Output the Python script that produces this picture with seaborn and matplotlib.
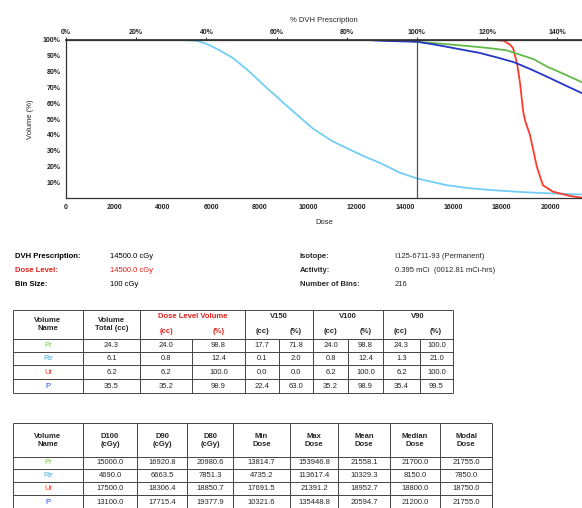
import matplotlib
matplotlib.use("Agg")
import matplotlib.pyplot as plt
import seaborn as sns
import pandas as pd

sns.set_theme(style="white")
plt.rcParams['font.family'] = ['Liberation Sans', 'DejaVu Sans']

# ---------------- DVH curve data (dose cGy, volume %) ----------------
dose_re = [0, 4800, 5400, 5900, 6400, 6900, 7500, 7730, 8300, 8720, 9000, 9670, 10200,
           11000, 11600, 12300, 13000, 13800, 14500, 15700, 16600, 17600, 18800,
           19900, 20800, 21750, 22500]
vol_re = [100, 100, 99.5, 97, 93, 88.6, 81, 77.8, 69.6, 64, 60, 51, 44,
          36, 31.6, 26.5, 22, 16, 12.4, 8.2, 6.3, 5, 3.8, 3, 2.5, 2.0, 1.6]

dose_pr = [0, 13000, 14000, 14500, 15000, 16000, 16600, 17400, 18200, 18800, 19300,
           19900, 20500, 21300, 21750, 22500]
vol_pr = [100, 100, 99.5, 98.8, 98.3, 97, 96.2, 95, 93.5, 90.5, 88,
          83, 79, 73.4, 71.8, 68]

dose_p = [0, 12500, 13050, 13500, 14000, 14500, 15200, 15700, 16400, 17100, 17800,
          18500, 19200, 19900, 20600, 21300, 21750, 22500]
vol_p = [100, 100, 99.5, 99.3, 99.1, 98.9, 97.2, 95.8, 93.8, 91.8, 89,
         86, 81.5, 76.6, 71.5, 66.5, 63.0, 58]

dose_ur = [0, 17700, 18100, 18350, 18470, 18640, 18760, 18890, 18970, 19170,
           19460, 19710, 20120, 20830, 21391]
vol_ur = [100, 100, 99.5, 97, 95, 85, 73, 55, 49, 40,
          19.6, 8, 4, 1.3, 0]

prescription = 14500
x_ticks = [0, 2000, 4000, 6000, 8000, 10000, 12000, 14000, 16000, 18000, 20000]
y_ticks = [0, 10, 20, 30, 40, 50, 60, 70, 80, 90, 100]
pct_ticks = [0, 20, 40, 60, 80, 100, 120, 140]

# ---------------- table data ----------------
names = ["Pr", "Re", "Ur", "P"]
name_colors = ["#7ac943", "#3fb6f0", "#ff2a1a", "#2a3ff0"]
vol_total = ["24.3", "6.1", "6.2", "35.5"]
dl_cc = ["24.0", "0.8", "6.2", "35.2"]
dl_pct = ["98.8", "12.4", "100.0", "98.9"]
v150_cc = ["17.7", "0.1", "0.0", "22.4"]
v150_pct = ["71.8", "2.0", "0.0", "63.0"]
v100_cc = ["24.0", "0.8", "6.2", "35.2"]
v100_pct = ["98.8", "12.4", "100.0", "98.9"]
v90_cc = ["24.3", "1.3", "6.2", "35.4"]
v90_pct = ["100.0", "21.0", "100.0", "99.5"]

d100 = ["15000.0", "4690.0", "17500.0", "13100.0"]
d90 = ["16920.8", "6663.5", "18306.4", "17715.4"]
d80 = ["20980.6", "7851.3", "18850.7", "19377.9"]
min_dose = ["13814.7", "4735.2", "17691.5", "10321.6"]
max_dose = ["153946.8", "113617.4", "21391.2", "135448.8"]
mean_dose = ["21558.1", "10329.3", "18952.7", "20594.7"]
median_dose = ["21700.0", "8150.0", "18800.0", "21200.0"]
modal_dose = ["21755.0", "7850.0", "18750.0", "21755.0"]

W, H = 582, 508
fig = plt.figure(figsize=(W / 100, H / 100), dpi=100)
fig.patch.set_facecolor("white")

ax = fig.add_axes([66 / W, 1 - 198 / H, (W - 66) / W, 158 / H])

frames = []
for nm, d, v in [("Re", dose_re, vol_re), ("Ur", dose_ur, vol_ur),
                 ("Pr", dose_pr, vol_pr), ("P", dose_p, vol_p)]:
    frames.append(pd.DataFrame({"Dose": d, "Volume": v, "Structure": nm}))
df = pd.concat(frames, ignore_index=True)

palette = {"Re": "#72cdf4", "Ur": "#ff3b2b", "Pr": "#62b947", "P": "#2436c8"}
sns.lineplot(data=df, x="Dose", y="Volume", hue="Structure",
             hue_order=["Re", "Ur", "Pr", "P"], palette=palette,
             sort=False, estimator=None, legend=False, ax=ax, linewidth=1.3)

ax.axvline(prescription, color="#555555", lw=0.9)
ax.set_xlim(0, (W - 66) / 48.4 * 2000)
ax.set_ylim(0, 100)
ax.set_xticks(x_ticks)
ax.set_xticklabels([str(t) for t in x_ticks], fontsize=5, fontweight="bold")
ax.set_yticks(y_ticks)
ax.set_yticklabels([""] + [f"{t}%" for t in y_ticks[1:]], fontsize=5, fontweight="bold")
ax.tick_params(axis="both", length=2, width=0.6, pad=2, colors="#222222")
ax.set_xlabel("Dose", fontsize=5.5)
ax.set_ylabel("Volume (%)", fontsize=5.5, labelpad=6)
ax.xaxis.set_label_coords(0.5, -0.13)
for s in ["left", "bottom", "top"]:
    ax.spines[s].set_color("#333333")
    ax.spines[s].set_linewidth(0.9)
ax.spines["right"].set_visible(False)

sec = ax.secondary_xaxis("top", functions=(lambda x: x / prescription * 100,
                                           lambda p: p * prescription / 100))
sec.set_xticks(pct_ticks)
sec.set_xticklabels([f"{p}%" for p in pct_ticks], fontsize=5, fontweight="bold")
sec.tick_params(length=2, width=0.6, pad=1, colors="#222222")
sec.set_xlabel("% DVH Prescription", fontsize=5.5, labelpad=5)
sec.spines["top"].set_color("#333333")

# ---------------- overlay for info text and tables ----------------
ov = fig.add_axes([0, 0, 1, 1])
ov.set_xlim(0, W)
ov.set_ylim(H, 0)
ov.axis("off")
ov.patch.set_alpha(0)

fs = 5.5
info_left = [("DVH Prescription:", "14500.0 cGy", "black"),
             ("Dose Level:", "14500.0 cGy", "#e0201a"),
             ("Bin Size:", "100 cGy", "black")]
info_right = [("Isotope:", "I125-6711-93 (Permanent)"),
              ("Activity:", "0.395 mCi  (0012.81 mCi-hrs)"),
              ("Number of Bins:", "216")]
for i, (lab, val, col) in enumerate(info_left):
    y = 257 + i * 14
    ov.text(15, y, lab, fontsize=fs, color=col, va="center", ha="left", fontweight="bold")
    ov.text(110, y, val, fontsize=fs, color=col, va="center", ha="left")
for i, (lab, val) in enumerate(info_right):
    y = 257 + i * 14
    ov.text(300, y, lab, fontsize=fs, va="center", ha="left", fontweight="bold")
    ov.text(395, y, val, fontsize=fs, va="center", ha="left")

lc = "#444444"


def hl(y, x0, x1):
    ov.plot([x0, x1], [y, y], color=lc, lw=0.7, solid_capstyle="butt")


def vl(x, y0, y1):
    ov.plot([x, x], [y0, y1], color=lc, lw=0.7, solid_capstyle="butt")


# Table 1
c1 = [13, 83, 140, 192, 245, 279, 313, 348, 383, 420, 453]
r1 = [310, 339, 352, 365, 379, 393]
for y in r1:
    hl(y, c1[0], c1[-1])
for x in [13, 83, 140, 245, 313, 383, 453]:
    vl(x, r1[0], r1[-1])
for x in [192, 279, 348, 420]:
    vl(x, r1[1], r1[-1])

red = "#e0201a"
hb = dict(fontsize=fs, ha="center", va="center", fontweight="bold")
ov.text(48, 324, "Volume\nName", linespacing=1.2, **hb)
ov.text(111.5, 324, "Volume\nTotal (cc)", linespacing=1.2, **hb)
ov.text(192.5, 317, "Dose Level Volume", color=red, **hb)
ov.text(166, 331.5, "(cc)", color=red, **hb)
ov.text(218.5, 331.5, "(%)", color=red, **hb)
for (a, b, t) in [(245, 313, "V150"), (313, 383, "V100"), (383, 453, "V90")]:
    ov.text((a + b) / 2, 317, t, **hb)
    m = (a + b) / 2
    ov.text((a + m) / 2, 331.5, "(cc)", **hb)
    ov.text((m + b) / 2, 331.5, "(%)", **hb)

cols1 = [vol_total, dl_cc, dl_pct, v150_cc, v150_pct, v100_cc, v100_pct, v90_cc, v90_pct]
for i in range(4):
    yc = (r1[i + 1] + r1[i + 2]) / 2
    ov.text(48, yc, names[i], fontsize=fs, ha="center", va="center", color=name_colors[i])
    for j, col in enumerate(cols1):
        ov.text((c1[j + 1] + c1[j + 2]) / 2, yc, col[i], fontsize=fs, ha="center", va="center")

# Table 2
c2 = [13, 83, 137, 187, 233, 290, 338, 390, 440, 492]
r2 = [423, 457, 469, 482, 495, 509]
for y in r2[:-1]:
    hl(y, c2[0], c2[-1])
for x in c2:
    vl(x, r2[0], r2[-1])
heads2 = ["Volume\nName", "D100\n(cGy)", "D90\n(cGy)", "D80\n(cGy)", "Min\nDose",
          "Max\nDose", "Mean\nDose", "Median\nDose", "Modal\nDose"]
for j, h in enumerate(heads2):
    ov.text((c2[j] + c2[j + 1]) / 2, 440, h, linespacing=1.2, **hb)
cols2 = [d100, d90, d80, min_dose, max_dose, mean_dose, median_dose, modal_dose]
for i in range(4):
    yc = (r2[i + 1] + r2[i + 2]) / 2 if i < 3 else 502
    ov.text(48, yc, names[i], fontsize=fs, ha="center", va="center", color=name_colors[i])
    for j, col in enumerate(cols2):
        ov.text((c2[j + 1] + c2[j + 2]) / 2, yc, col[i], fontsize=fs, ha="center", va="center")

fig.savefig("out.png", dpi=100, facecolor="white")
